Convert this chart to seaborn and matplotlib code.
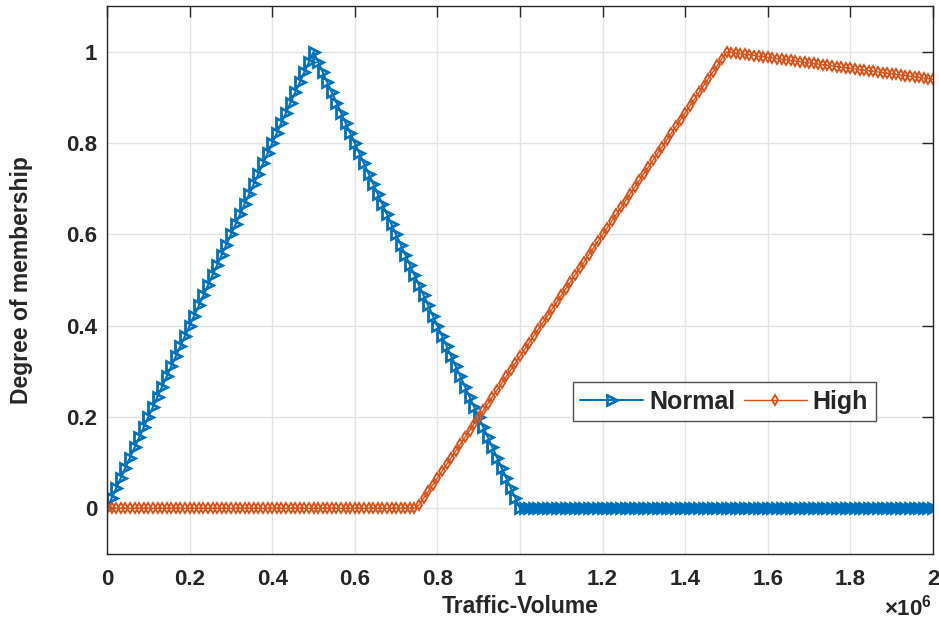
import numpy as np
import pandas as pd
import matplotlib
matplotlib.use("Agg")
import matplotlib.pyplot as plt
import seaborn as sns

# Membership-function breakpoints (x in vehicles, y degree)
normal_x = [0.0, 0.5e6, 1.0e6, 2.0e6]
normal_y = [0.0, 1.0, 0.0, 0.0]
high_x = [0.0, 0.75e6, 1.5e6, 2.0e6]
high_y = [0.0, 0.0, 1.0, 0.94]

# sampling grid of the plotted markers (181 samples on 0..2e6)
n_samples = 181
x_min, x_max = 0.0, 2.0e6

series_names = ["Normal", "High"]
x_ticks = [0, 0.2e6, 0.4e6, 0.6e6, 0.8e6, 1.0e6, 1.2e6, 1.4e6, 1.6e6, 1.8e6, 2.0e6]
y_ticks = [0, 0.2, 0.4, 0.6, 0.8, 1.0]

grid = np.linspace(x_min, x_max, n_samples)
df = pd.concat([
    pd.DataFrame({"x": grid, "y": np.interp(grid, normal_x, normal_y), "series": "Normal"}),
    pd.DataFrame({"x": grid, "y": np.interp(grid, high_x, high_y), "series": "High"}),
], ignore_index=True)

sns.set_style("white")
plt.rcParams["font.family"] = ["Liberation Sans", "DejaVu Sans"]
plt.rcParams["font.weight"] = "bold"
plt.rcParams["mathtext.fontset"] = "custom"
plt.rcParams["mathtext.rm"] = "Liberation Sans:bold"
plt.rcParams["mathtext.bf"] = "Liberation Sans:bold"

fig = plt.figure(figsize=(9.39, 6.25), dpi=100)
ax = fig.add_axes([0.114, 0.1136, 0.8796, 0.8764])

colors = {"Normal": "#0072BD", "High": "#D95319"}
sns.lineplot(data=df[df.series == "Normal"], x="x", y="y", ax=ax, color=colors["Normal"],
             linewidth=1.5, marker=">", markersize=6.5, markerfacecolor="none",
             markeredgecolor=colors["Normal"], markeredgewidth=2.0, label="Normal", sort=False)
sns.lineplot(data=df[df.series == "High"], x="x", y="y", ax=ax, color=colors["High"],
             linewidth=1.0, marker="d", markersize=4.6, markerfacecolor="none",
             markeredgecolor=colors["High"], markeredgewidth=1.4, label="High", sort=False)

ax.set_xlim(x_min, x_max)
ax.set_ylim(-0.1, 1.1)
ax.set_xticks(x_ticks)
ax.set_xticklabels(["%g" % (t / 1e6) for t in x_ticks])
ax.set_yticks(y_ticks)
ax.set_yticklabels(["%g" % t for t in y_ticks])
ax.grid(True, color="#e3e3e3", linewidth=1.0)
ax.set_axisbelow(True)
for s in ax.spines.values():
    s.set_visible(True)
    s.set_color("#262626")
    s.set_linewidth(1.0)
ax.tick_params(direction="in", length=8, width=1, colors="#262626", labelsize=16,
               top=True, right=True)
ax.tick_params(axis="x", pad=11)
ax.tick_params(axis="y", pad=7)
for lab in ax.get_xticklabels() + ax.get_yticklabels():
    lab.set_fontweight("bold")
    lab.set_color("#262626")

ax.set_xlabel("Traffic-Volume", fontsize=16.5, fontweight="bold", color="#262626")
ax.set_ylabel("Degree of membership", fontsize=16.5, fontweight="bold", color="#262626")
ax.xaxis.set_label_coords(0.5, -0.0967)
ax.xaxis.label.set_va("center")
ax.yaxis.set_label_coords(-0.103, 0.5)
ax.yaxis.label.set_va("center")
ax.text(0.9985, -0.075, r"$\times10^{6}$", transform=ax.transAxes, ha="right", va="top",
        fontsize=16, color="#262626")

leg = ax.legend(loc="center left", bbox_to_anchor=(0.564, 0.278), ncol=2,
                prop={"weight": "bold", "size": 18}, frameon=True, fancybox=False,
                edgecolor="#262626", handlelength=2.5, columnspacing=0.35, handletextpad=0.25,
                borderpad=0.3, borderaxespad=0)
leg.get_frame().set_linewidth(1.0)

fig.savefig("out.png", dpi=100)
